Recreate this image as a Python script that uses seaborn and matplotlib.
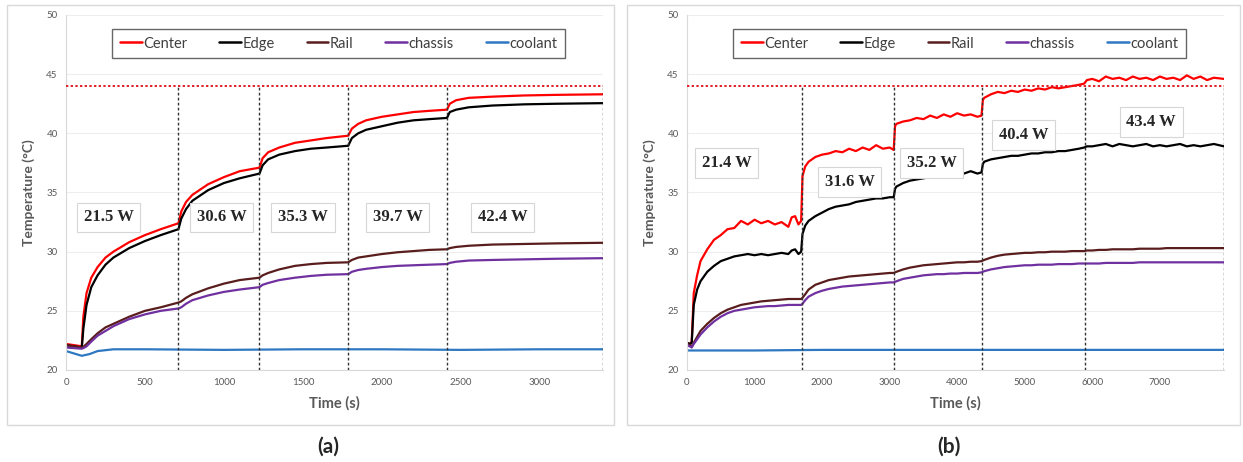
import matplotlib
matplotlib.use("Agg")
import matplotlib.pyplot as plt
from matplotlib.lines import Line2D
from matplotlib.patches import Rectangle
import numpy as np
import pandas as pd
import seaborn as sns

sensors = ["Center", "Edge", "Rail", "chassis", "coolant"]
colors = {"Center": "#ff0000", "Edge": "#000000", "Rail": "#5a1d1d",
          "chassis": "#7030a0", "coolant": "#2e78c2"}

# ---- panel (a) ----
t_a = [0, 50, 100, 110, 130, 160, 200, 250, 300, 400, 500, 600, 712, 730, 760, 800, 900, 1000,
       1100, 1225, 1245, 1280, 1350, 1450, 1550, 1650, 1787, 1810, 1850, 1900, 2000, 2100, 2200,
       2300, 2412, 2430, 2470, 2550, 2700, 2900, 3100, 3400]
center_a = [22.2, 22.1, 22.0, 24.5, 26.5, 27.8, 28.7, 29.5, 30.0, 30.8, 31.4, 31.9, 32.4, 33.4,
            34.2, 34.8, 35.7, 36.3, 36.8, 37.1, 37.9, 38.4, 38.8, 39.2, 39.4, 39.6, 39.8, 40.4,
            40.8, 41.1, 41.4, 41.6, 41.8, 41.9, 42.0, 42.5, 42.8, 43.0, 43.1, 43.2, 43.25, 43.3]
edge_a = [22.1, 22.0, 21.9, 23.5, 25.5, 27.0, 28.0, 28.9, 29.5, 30.3, 30.9, 31.4, 31.9, 32.8,
          33.6, 34.3, 35.2, 35.8, 36.2, 36.6, 37.3, 37.8, 38.2, 38.5, 38.7, 38.8, 38.95, 39.6,
          40.0, 40.3, 40.6, 40.9, 41.1, 41.2, 41.3, 41.8, 42.0, 42.2, 42.35, 42.45, 42.5, 42.55]
rail_a = [22.1, 22.0, 21.9, 21.95, 22.2, 22.6, 23.1, 23.6, 23.9, 24.5, 25.0, 25.3, 25.7, 25.8,
          26.1, 26.4, 26.9, 27.3, 27.6, 27.8, 28.0, 28.2, 28.5, 28.8, 28.95, 29.05, 29.1, 29.3,
          29.5, 29.6, 29.8, 29.95, 30.05, 30.15, 30.2, 30.3, 30.4, 30.5, 30.6, 30.65, 30.7, 30.75]
chassis_a = [21.9, 21.85, 21.8, 21.85, 22.0, 22.4, 22.9, 23.3, 23.7, 24.3, 24.7, 25.0, 25.2,
             25.3, 25.6, 25.9, 26.3, 26.6, 26.8, 27.0, 27.2, 27.35, 27.6, 27.8, 27.95, 28.05,
             28.1, 28.3, 28.45, 28.55, 28.7, 28.8, 28.85, 28.9, 28.95, 29.05, 29.15, 29.25, 29.3,
             29.35, 29.4, 29.45]
t_cool_a = [0, 50, 100, 150, 200, 300, 500, 1000, 1500, 2000, 2500, 3000, 3400]
coolant_a = [21.6, 21.4, 21.2, 21.35, 21.6, 21.75, 21.75, 21.7, 21.75, 21.75, 21.7, 21.75, 21.75]
steps_a = [712, 1225, 1787, 2412, 3400]
powers_a = ["21.5 W", "30.6 W", "35.3 W", "39.7 W", "42.4 W"]
power_x_a = [270, 985, 1500, 2100, 2765]
power_y_a = [32.9, 32.9, 32.9, 32.9, 32.9]

# ---- panel (b) ----
t_b = [0, 40, 70, 100, 150, 200, 300, 400, 500, 600, 700, 800, 900, 1000, 1100, 1200, 1300,
       1400, 1500, 1550, 1600, 1650, 1690, 1710, 1750, 1800, 1900, 2000, 2100, 2200, 2300, 2400,
       2500, 2600, 2700, 2800, 2900, 3000, 3060, 3080, 3100, 3200, 3300, 3400, 3500, 3600, 3700,
       3800, 3900, 4000, 4100, 4200, 4300, 4360, 4380, 4400, 4500, 4600, 4700, 4800, 4900, 5000,
       5100, 5200, 5300, 5400, 5500, 5600, 5700, 5800, 5880, 5920, 6000, 6100, 6200, 6300, 6400,
       6500, 6600, 6700, 6800, 6900, 7000, 7100, 7200, 7300, 7400, 7500, 7600, 7700, 7800, 7950]
center_b = [22.3, 22.2, 22.4, 26.5, 28.0, 29.2, 30.2, 31.0, 31.4, 31.9, 32.0, 32.6, 32.3, 32.7,
            32.4, 32.6, 32.3, 32.5, 32.1, 32.9, 33.0, 32.3, 32.6, 36.4, 37.2, 37.6, 38.0, 38.2,
            38.3, 38.5, 38.4, 38.7, 38.5, 38.8, 38.6, 39.0, 38.7, 38.8, 38.6, 40.6, 40.8, 41.0,
            41.1, 41.3, 41.2, 41.5, 41.3, 41.6, 41.4, 41.7, 41.5, 41.6, 41.4, 41.5, 42.8, 43.0,
            43.3, 43.5, 43.4, 43.6, 43.5, 43.7, 43.6, 43.8, 43.7, 43.9, 43.8, 43.9, 44.0, 44.1,
            44.2, 44.5, 44.6, 44.4, 44.8, 44.6, 44.7, 44.5, 44.8, 44.6, 44.7, 44.5, 44.8, 44.6,
            44.7, 44.5, 44.9, 44.6, 44.8, 44.5, 44.7, 44.6]
edge_b = [22.3, 22.2, 22.3, 25.5, 26.8, 27.5, 28.3, 28.8, 29.2, 29.4, 29.6, 29.7, 29.8, 29.7,
          29.8, 29.7, 29.8, 29.9, 29.8, 30.1, 30.2, 29.8, 30.0, 31.5, 32.2, 32.6, 33.0, 33.3,
          33.6, 33.8, 33.9, 34.0, 34.2, 34.3, 34.4, 34.5, 34.5, 34.6, 34.6, 35.3, 35.5, 35.8,
          36.0, 36.1, 36.2, 36.3, 36.4, 36.4, 36.5, 36.5, 36.6, 36.8, 36.6, 36.7, 37.4, 37.6,
          37.8, 37.9, 38.0, 38.1, 38.1, 38.2, 38.3, 38.3, 38.4, 38.4, 38.5, 38.5, 38.6, 38.7,
          38.8, 38.9, 38.9, 39.0, 39.1, 38.9, 39.1, 39.0, 38.9, 39.0, 39.1, 38.9, 39.0, 38.9,
          39.0, 39.1, 38.9, 39.0, 38.9, 39.0, 39.1, 38.9]
rail_b = [22.2, 22.1, 22.0, 22.3, 22.8, 23.3, 23.9, 24.4, 24.8, 25.1, 25.3, 25.5, 25.6, 25.7,
          25.8, 25.85, 25.9, 25.95, 26.0, 26.0, 26.0, 26.0, 26.0, 26.1, 26.4, 26.8, 27.2, 27.4,
          27.6, 27.7, 27.8, 27.9, 27.95, 28.0, 28.05, 28.1, 28.15, 28.2, 28.2, 28.25, 28.3, 28.5,
          28.65, 28.75, 28.85, 28.9, 28.95, 29.0, 29.05, 29.1, 29.1, 29.15, 29.15, 29.2, 29.25,
          29.3, 29.5, 29.65, 29.75, 29.8, 29.85, 29.9, 29.9, 29.95, 29.95, 30.0, 30.0, 30.0,
          30.05, 30.05, 30.05, 30.1, 30.1, 30.15, 30.15, 30.2, 30.2, 30.2, 30.2, 30.25, 30.25,
          30.25, 30.25, 30.3, 30.3, 30.3, 30.3, 30.3, 30.3, 30.3, 30.3, 30.3]
chassis_b = [22.1, 22.0, 21.9, 22.2, 22.6, 23.0, 23.6, 24.1, 24.5, 24.8, 25.0, 25.1, 25.2, 25.3,
             25.35, 25.4, 25.4, 25.45, 25.5, 25.5, 25.5, 25.5, 25.5, 25.6, 25.9, 26.2, 26.5,
             26.7, 26.85, 26.95, 27.05, 27.1, 27.15, 27.2, 27.25, 27.3, 27.35, 27.4, 27.4, 27.45,
             27.5, 27.7, 27.8, 27.9, 28.0, 28.05, 28.1, 28.1, 28.15, 28.15, 28.2, 28.2, 28.2,
             28.25, 28.3, 28.35, 28.5, 28.6, 28.7, 28.75, 28.8, 28.85, 28.85, 28.9, 28.9, 28.9,
             28.95, 28.95, 28.95, 29.0, 29.0, 29.0, 29.0, 29.0, 29.05, 29.05, 29.05, 29.05, 29.05,
             29.1, 29.1, 29.1, 29.1, 29.1, 29.1, 29.1, 29.1, 29.1, 29.1, 29.1, 29.1, 29.1]
t_cool_b = [0, 1000, 2000, 3000, 4000, 5000, 6000, 7000, 7950]
coolant_b = [21.65, 21.65, 21.7, 21.7, 21.7, 21.7, 21.7, 21.7, 21.7]
steps_b = [1700, 3070, 4370, 5890, 7950]
powers_b = ["21.4 W", "31.6 W", "35.2 W", "40.4 W", "43.4 W"]
power_x_b = [590, 2410, 3620, 4980, 6870]
power_y_b = [37.5, 35.9, 37.5, 39.85, 40.95]

limit_temp = 44.0

sns.set_style("white")
plt.rcParams["font.family"] = ["Lato", "DejaVu Sans"]
gray_txt = "#595959"

fig = plt.figure(figsize=(12.43, 4.62), dpi=100)

# chart area frames
for x0, x1 in [(7, 614), (627, 1240)]:
    fig.patches.append(Rectangle((x0 / 1243, 1 - 425 / 462), (x1 - x0) / 1243, 420 / 462,
                                 transform=fig.transFigure, fill=False, edgecolor="#d9d9d9", lw=1))


def make_df(t, series, t_cool, cool):
    parts = []
    for name, vals in zip(sensors[:4], series):
        parts.append(pd.DataFrame({"time": t, "temp": vals, "sensor": name}))
    parts.append(pd.DataFrame({"time": t_cool, "temp": cool, "sensor": "coolant"}))
    return pd.concat(parts, ignore_index=True)


panels = [
    dict(left=66, right=603, df=make_df(t_a, [center_a, edge_a, rail_a, chassis_a], t_cool_a, coolant_a),
         xmax=3400, xticks=np.arange(0, 3001, 500), steps=steps_a, powers=powers_a,
         px=power_x_a, py=power_y_a, tag="(a)"),
    dict(left=687, right=1224, df=make_df(t_b, [center_b, edge_b, rail_b, chassis_b], t_cool_b, coolant_b),
         xmax=7950, xticks=np.arange(0, 7001, 1000), steps=steps_b, powers=powers_b,
         px=power_x_b, py=power_y_b, tag="(b)"),
]

for p in panels:
    ax = fig.add_axes([p["left"] / 1243, 1 - 370 / 462, (p["right"] - p["left"]) / 1243, 355 / 462])
    ax.yaxis.grid(True, color="#eeeeee", lw=0.8)
    sns.lineplot(data=p["df"], x="time", y="temp", hue="sensor", palette=colors,
                 hue_order=sensors, linewidth=1.6, estimator=None, legend=False, ax=ax)
    ax.hlines(limit_temp, 0, p["xmax"], colors="#e0202a", linestyles=(0, (1.2, 1.2)), lw=1.4, zorder=3)
    ax.vlines(p["steps"], 20, limit_temp, colors="#333333", linestyles=(0, (2, 1.6)), lw=1.0, zorder=3)
    for txt, x, y in zip(p["powers"], p["px"], p["py"]):
        ax.text(x, y, txt, ha="center", va="center", fontsize=12, fontweight="bold",
                family="Liberation Serif", zorder=5,
                bbox=dict(boxstyle="square,pad=0.4", facecolor="white", edgecolor="#d6d6d6", lw=0.8))
    ax.set_xlim(0, p["xmax"])
    ax.set_ylim(20, 50)
    ax.set_xticks(p["xticks"])
    ax.set_yticks(np.arange(20, 51, 5))
    ax.tick_params(labelsize=7, colors=gray_txt, length=0, pad=6)
    for s in ["top", "right"]:
        ax.spines[s].set_visible(False)
    for s in ["left", "bottom"]:
        ax.spines[s].set_color("#d9d9d9")
        ax.spines[s].set_linewidth(0.8)
    ax.set_xlabel("Time (s)", fontsize=10.5, fontweight="bold", color=gray_txt, labelpad=6)
    ax.set_ylabel("Temperature (°C)", fontsize=10, fontweight="bold", color=gray_txt, labelpad=8)
    handles = [Line2D([], [], color=colors[s], lw=1.8) for s in sensors]
    leg = ax.legend(handles, sensors, loc="center", ncol=5, mode="expand",
                    bbox_to_anchor=(0.073, 0.862, 0.869, 0.115), frameon=True, fancybox=False,
                    edgecolor="#404040", fontsize=10.5, handlelength=1.5, handletextpad=0.1,
                    borderpad=0.5, labelcolor="#404040")
    leg.get_frame().set_linewidth(1.0)
    cx = (p["left"] + p["right"]) / 2 / 1243
    fig.text(cx - 0.005, 1 - 447 / 462, p["tag"], ha="center", va="center", fontsize=15, fontweight="bold")

fig.savefig("out.png", dpi=100)
